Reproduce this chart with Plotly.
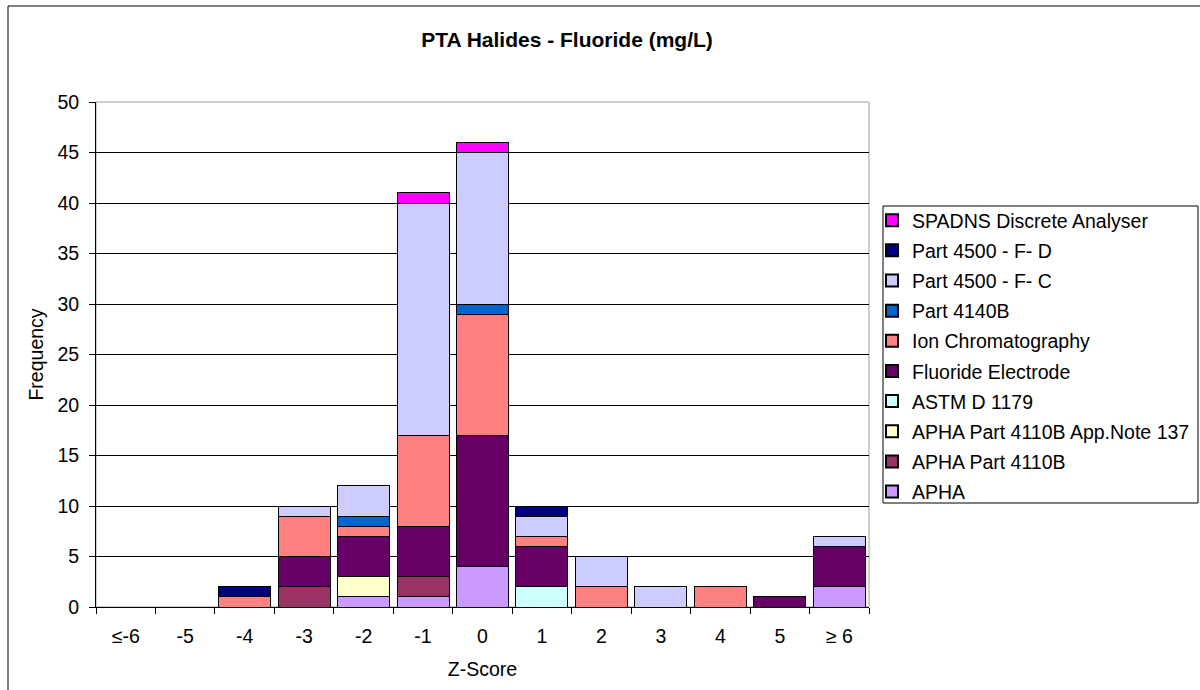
import plotly.graph_objects as go

categories = ["≤-6", "-5", "-4", "-3", "-2", "-1", "0", "1", "2", "3", "4", "5", "≥ 6"]

# series listed bottom-of-stack first
apha                = [0, 0, 0, 0, 1, 1, 4, 0, 0, 0, 0, 0, 2]
apha_4110b          = [0, 0, 0, 2, 0, 2, 0, 0, 0, 0, 0, 0, 0]
apha_4110b_app137   = [0, 0, 0, 0, 2, 0, 0, 0, 0, 0, 0, 0, 0]
astm_d1179          = [0, 0, 0, 0, 0, 0, 0, 2, 0, 0, 0, 0, 0]
fluoride_electrode  = [0, 0, 0, 3, 4, 5, 13, 4, 0, 0, 0, 1, 4]
ion_chromatography  = [0, 0, 1, 4, 1, 9, 12, 1, 2, 0, 2, 0, 0]
part_4140b          = [0, 0, 0, 0, 1, 0, 1, 0, 0, 0, 0, 0, 0]
part_4500_f_c       = [0, 0, 0, 1, 3, 23, 15, 2, 3, 2, 0, 0, 1]
part_4500_f_d       = [0, 0, 1, 0, 0, 0, 0, 1, 0, 0, 0, 0, 0]
spadns              = [0, 0, 0, 0, 0, 1, 1, 0, 0, 0, 0, 0, 0]

series_names = ["APHA", "APHA Part 4110B", "APHA Part 4110B App.Note 137", "ASTM D 1179",
                "Fluoride Electrode", "Ion Chromatography", "Part 4140B",
                "Part 4500 - F- C", "Part 4500 - F- D", "SPADNS Discrete Analyser"]
series_values = [apha, apha_4110b, apha_4110b_app137, astm_d1179, fluoride_electrode,
                 ion_chromatography, part_4140b, part_4500_f_c, part_4500_f_d, spadns]
series_colors = ["#CC99FF", "#993366", "#FFFFCC", "#CCFFFF", "#660066",
                 "#FF8080", "#0066CC", "#CCCCFF", "#000080", "#FF00FF"]

fig = go.Figure()
n = len(series_names)
for i, (name, vals, col) in enumerate(zip(series_names, series_values, series_colors)):
    fig.add_trace(go.Bar(
        x=categories, y=vals, name=name, legendgroup=name, legendrank=n - i,
        marker=dict(color=col, line=dict(color="#000000", width=1)),
    ))

# plot-area pixel geometry
L, R, T, B = 96, 869, 102, 607
W, H = R - L, B - T
def px(x): return (x - L) / W
def py(y): return (B - y) / H

FONT = "Liberation Sans, Arial, sans-serif"
FS = 19.5

fig.update_layout(
    width=1200, height=690,
    margin=dict(l=L, r=1200 - R, t=T, b=690 - B, autoexpand=False),
    paper_bgcolor="white", plot_bgcolor="white",
    barmode="stack", bargap=0.125,
    font=dict(family=FONT, size=FS, color="#000000"),
    title=dict(text="<b>PTA Halides - Fluoride (mg/L)</b>", x=567 / 1200, xanchor="center",
               xref="container", y=1 - 40 / 690, yanchor="middle", yref="container",
               font=dict(family=FONT, size=21, color="#000000")),
    showlegend=True,
    legend=dict(
        x=px(872), y=py(201), xanchor="left", yanchor="top",
        bgcolor="rgba(0,0,0,0)", borderwidth=0,
        font=dict(family=FONT, size=FS, color="#000000"),
        traceorder="grouped", itemsizing="constant",
        tracegroupgap=1.8,
    ),
    xaxis=dict(
        type="category", showline=True, linecolor="#000000", linewidth=1,
        ticks="outside", ticklen=6, tickcolor="#000000", tickson="boundaries",
        showgrid=False, ticklabelstandoff=12,
        title=dict(text="Z-Score", standoff=15, font=dict(size=FS)),
        tickfont=dict(size=FS),
    ),
    yaxis=dict(
        range=[0, 50], dtick=5, tick0=0, showline=True, linecolor="#000000", linewidth=1,
        ticks="outside", ticklen=6, tickcolor="#000000",
        showgrid=True, gridcolor="#000000", gridwidth=1, zeroline=False,
        ticklabelstandoff=6,
        title=dict(text="Frequency", standoff=8, font=dict(size=FS)),
        tickfont=dict(size=FS),
    ),
    shapes=[
        # plot-area border (gray)
        dict(type="rect", xref="paper", yref="paper", x0=0, x1=1, y0=0, y1=1,
             line=dict(color="#A0A0A0", width=1), layer="below"),
        # chart-area outer border
        dict(type="rect", xref="paper", yref="paper", x0=px(8), x1=px(1260),
             y0=py(760), y1=py(6), line=dict(color="#000000", width=1), layer="below"),
        # legend box
        dict(type="rect", xref="paper", yref="paper", x0=px(883), x1=px(1198),
             y0=py(503), y1=py(206), fillcolor="white",
             line=dict(color="#000000", width=1), layer="below"),
    ],
)

fig.write_html("out.html")
